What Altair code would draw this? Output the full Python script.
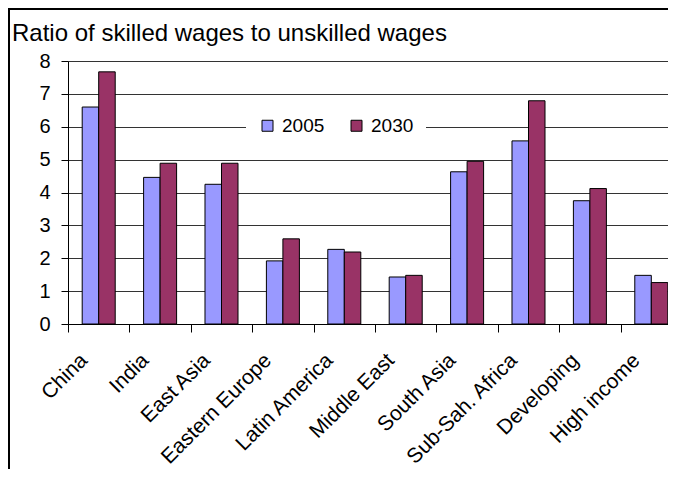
import altair as alt
import pandas as pd

regions = ["China", "India", "East Asia", "Eastern Europe", "Latin America",
           "Middle East", "South Asia", "Sub-Sah. Africa", "Developing", "High income"]
v2005 = [6.6, 4.46, 4.25, 1.92, 2.27, 1.43, 4.63, 5.57, 3.75, 1.48]
v2030 = [7.67, 4.89, 4.89, 2.59, 2.19, 1.48, 4.95, 6.79, 4.12, 1.26]
years = ["2005", "2030"]
colors = ["#9999FF", "#993366"]
title_text = "Ratio of skilled wages to unskilled wages"

rows = []
for r, a, b in zip(regions, v2005, v2030):
    rows.append({"region": r, "year": years[0], "value": a})
    rows.append({"region": r, "year": years[1], "value": b})
df = pd.DataFrame(rows)

FONT = "Liberation Sans"

bars = alt.Chart(df).mark_bar(stroke="black", strokeWidth=1).encode(
    x=alt.X("region:N", sort=regions,
            scale=alt.Scale(paddingInner=0, paddingOuter=0, range=[0, 614]),
            axis=alt.Axis(title=None, labelAngle=315, labelAlign="right",
                          labelBaseline="middle", labelFontSize=21, labelFont=FONT,
                          labelColor="black", tickBand="extent", tickSize=8,
                          tickColor="black", domainColor="black", labelPadding=25,
                          labelOffset=-15, grid=False, labelOverlap=False)),
    xOffset=alt.XOffset("year:N", sort=years,
                        scale=alt.Scale(paddingInner=0, paddingOuter=0.86)),
    y=alt.Y("value:Q", scale=alt.Scale(domain=[0, 8], nice=False),
            axis=alt.Axis(title=None, values=list(range(9)), tickSize=7,
                          labelPadding=11, labelFontSize=20, labelFont=FONT,
                          labelColor="black", gridColor="#333", gridWidth=1,
                          domainColor="black", tickColor="black")),
    color=alt.Color("year:N", sort=years,
                    scale=alt.Scale(domain=years, range=colors),
                    legend=alt.Legend(orient="none", legendX=178, legendY=43,
                                      direction="horizontal", title=None,
                                      fillColor="white", padding=12,
                                      symbolType="square", symbolSize=121,
                                      symbolStrokeColor="black", symbolStrokeWidth=1,
                                      labelFontSize=19, labelFont=FONT,
                                      labelColor="black", labelOffset=5,
                                      columnPadding=22)),
)

title = alt.Chart(pd.DataFrame({"t": [title_text]})).mark_text(
    align="left", baseline="alphabetic", fontSize=24, font=FONT, color="black"
).encode(text="t:N", x=alt.value(-56), y=alt.value(-20))

one = pd.DataFrame({"k": [0]})
frame = alt.Chart(one).mark_rect(fill=None, stroke="black", strokeWidth=2).encode(
    x=alt.value(-59), x2=alt.value(700), y=alt.value(-52), y2=alt.value(600))

chart = alt.layer(bars, title, frame).properties(
    width=600, height=263,
    padding={"left": 60, "top": 53, "right": 0, "bottom": 145},
    autosize="none",
).configure_view(stroke=None).configure(background="white")

chart.save("out.html", embed_options={"renderer": "svg", "actions": False})
